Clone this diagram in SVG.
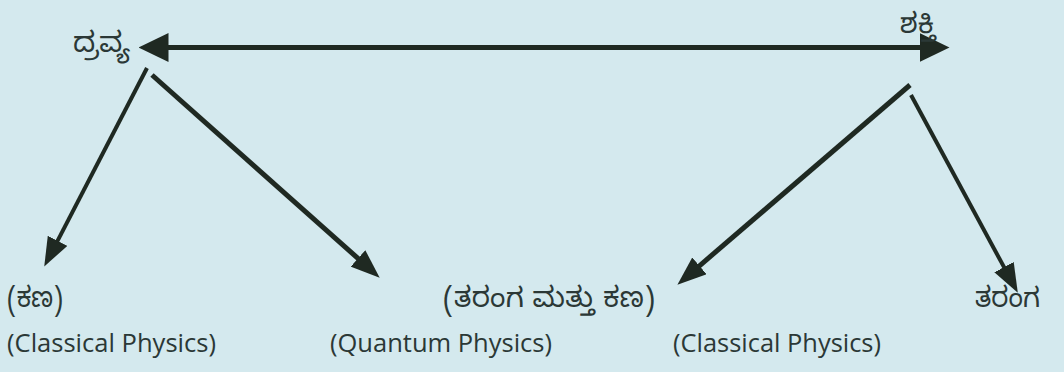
<svg xmlns="http://www.w3.org/2000/svg" width="1064" height="372" viewBox="0 0 1064 372">
<style>
.kn{font-family:"Noto Sans Kannada","Noto Sans","DejaVu Sans",sans-serif;font-size:28px;fill:#2b3836}
.en{font-family:"Open Sans","Liberation Sans",sans-serif;font-size:25px;fill:#2b3836}
.ar{stroke:#1f2922;fill:none}
</style>
<defs>
<marker id="big" viewBox="0 0 10 10" preserveAspectRatio="none" refX="0.5" refY="5" markerWidth="30" markerHeight="29" markerUnits="userSpaceOnUse" orient="auto-start-reverse"><path d="M0,0 L10,5 L0,10 z" fill="#1f2922"/></marker>
<marker id="sm" viewBox="0 0 10 10" preserveAspectRatio="none" refX="0.5" refY="5" markerWidth="29" markerHeight="22" markerUnits="userSpaceOnUse" orient="auto"><path d="M0,0 L10,5 L0,10 z" fill="#1f2922"/></marker>
</defs>
<rect width="1064" height="372" fill="#d4e9ee"/>
<g id="connectors">
<line class="ar" x1="167" y1="47.5" x2="921" y2="47.5" stroke-width="5" marker-start="url(#big)" marker-end="url(#big)"/>
<line class="ar" x1="147" y1="68" x2="56.9" y2="242.1" stroke-width="4" marker-end="url(#sm)"/>
<line class="ar" x1="152" y1="75" x2="359.1" y2="259.4" stroke-width="5" marker-end="url(#sm)"/>
<line class="ar" x1="910" y1="85" x2="698.3" y2="266.8" stroke-width="5" marker-end="url(#sm)"/>
<line class="ar" x1="911" y1="95" x2="1004.7" y2="268.4" stroke-width="4" marker-end="url(#sm)"/>
</g>
<g id="dravya"><text class="kn" x="73" y="52" textLength="57" lengthAdjust="spacingAndGlyphs">ದ್ರವ್ಯ</text></g>
<g id="shakti"><text class="kn" x="900" y="33" font-size="30">ಶಕ್ತಿ</text></g>
<g id="kana"><text class="kn" x="7" y="307" textLength="56" lengthAdjust="spacingAndGlyphs">(ಕಣ)</text><text class="en" x="7" y="352" textLength="209" lengthAdjust="spacingAndGlyphs">(Classical Physics)</text></g>
<g id="quantum"><text class="en" x="330" y="352" textLength="222" lengthAdjust="spacingAndGlyphs">(Quantum Physics)</text></g>
<g id="tarangamattukana"><text class="kn" x="443" y="307" textLength="212" lengthAdjust="spacing">(ತರಂಗ ಮತ್ತು ಕಣ)</text><text class="en" x="673" y="352" textLength="208" lengthAdjust="spacingAndGlyphs">(Classical Physics)</text></g>
<g id="taranga"><text class="kn" x="975" y="307" textLength="65" lengthAdjust="spacingAndGlyphs">ತರಂಗ</text></g>
</svg>
